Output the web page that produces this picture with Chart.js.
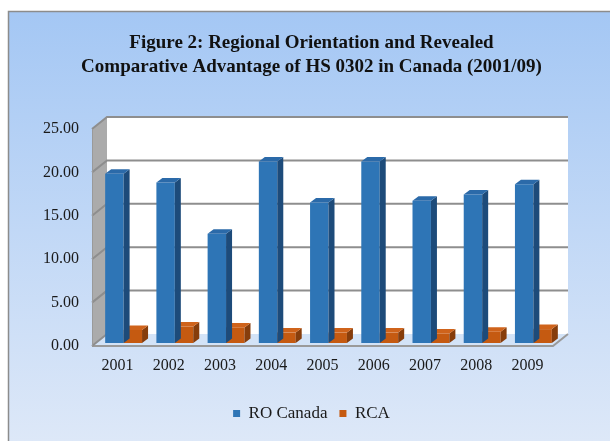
<!DOCTYPE html>
<html>
<head>
<meta charset="utf-8">
<script src="https://cdn.jsdelivr.net/npm/chart.js@4.4.0/dist/chart.umd.min.js"></script>
<style>
  html, body { margin: 0; padding: 0; background: #fff; }
  canvas { display: block; }
</style>
</head>
<body>
<canvas id="chart" width="610" height="441"></canvas>
<script>
// Chart data
const years = ['2001', '2002', '2003', '2004', '2005', '2006', '2007', '2008', '2009'];
const roCanada = [19.5, 18.5, 12.6, 20.9, 16.2, 20.9, 16.4, 17.1, 18.3];
const rca = [1.5, 1.9, 1.8, 1.2, 1.2, 1.2, 1.1, 1.3, 1.6];
const yTicks = [0, 5, 10, 15, 20, 25];
const titleLines = [
    'Figure 2: Regional Orientation and Revealed',
    'Comparative Advantage of HS 0302 in Canada (2001/09)'
];
const seriesNames = ['RO Canada', 'RCA'];

// 3D look: wall depth, bar offset into the box, bar depth
const WALL_DX = 15, WALL_DY = 12;
const BAR_DX = 6, BAR_DY = 3;
const DEPTH_DX = 6, DEPTH_DY = 4.5;
const sideColors = ['#1d4b7a', '#863d0c'];
const topColors = ['#2b6aa9', '#cf631b'];

const serif = "'Liberation Serif', 'Times New Roman', serif";

function quad(c, pts, fill) {
    c.beginPath();
    c.moveTo(pts[0][0], pts[0][1]);
    for (let i = 1; i < pts.length; i++) c.lineTo(pts[i][0], pts[i][1]);
    c.closePath();
    c.fillStyle = fill;
    c.fill();
}

const scene3d = {
    id: 'scene3d',
    beforeDraw(chart) {
        const c = chart.ctx;
        const { left, right, top, bottom } = chart.chartArea;
        c.save();
        c.fillStyle = '#fff';
        c.fillRect(0, 0, chart.width, chart.height);

        // outer frame with blue gradient
        const g = c.createLinearGradient(0, 11, 0, chart.height);
        g.addColorStop(0, '#a4c7f4');
        g.addColorStop(1, '#dde8f8');
        c.fillStyle = g;
        c.fillRect(8, 11, chart.width, chart.height);
        c.strokeStyle = '#8c8c8c';
        c.lineWidth = 1.5;
        c.strokeRect(8.5, 11.5, chart.width + 10, chart.height + 10);

        // back wall
        c.fillStyle = '#ffffff';
        c.fillRect(left + WALL_DX, top - WALL_DY, right - left, bottom - top);

        // left wall
        quad(c, [[left, top], [left + WALL_DX, top - WALL_DY],
                 [left + WALL_DX, bottom - WALL_DY], [left, bottom]], '#ababab');

        // floor
        quad(c, [[left, bottom], [left + WALL_DX, bottom - WALL_DY],
                 [right + WALL_DX, bottom - WALL_DY], [right, bottom]], '#d3e3f7');
        c.strokeStyle = '#9a9a9a';
        c.lineWidth = 2;
        c.beginPath();
        c.moveTo(left, bottom);
        c.lineTo(right, bottom);
        c.lineTo(right + WALL_DX, bottom - WALL_DY);
        c.stroke();

        // gridlines on the left and back walls
        const ys = chart.scales.y;
        c.strokeStyle = '#8e8e8e';
        c.lineWidth = 2;
        ys.ticks.forEach(t => {
            const py = ys.getPixelForValue(t.value);
            c.beginPath();
            c.moveTo(left, py);
            c.lineTo(left + WALL_DX, py - WALL_DY);
            if (t.value > 0) c.lineTo(right + WALL_DX, py - WALL_DY);
            c.stroke();
        });
        c.strokeStyle = '#9a9a9a';
        c.lineWidth = 1;
        c.beginPath();
        c.moveTo(left + 0.5, top);
        c.lineTo(left + 0.5, bottom);
        c.stroke();
        c.restore();
    },
    beforeDatasetsDraw(chart) {
        chart.ctx.save();
        chart.ctx.translate(BAR_DX, -BAR_DY);
    },
    afterDatasetDraw(chart, args) {
        const c = chart.ctx;
        const i = args.index;
        args.meta.data.forEach(bar => {
            const { x, y, base, width } = bar.getProps(['x', 'y', 'base', 'width'], true);
            const l = x - width / 2, r = x + width / 2;
            quad(c, [[r, y], [r + DEPTH_DX, y - DEPTH_DY],
                     [r + DEPTH_DX, base - DEPTH_DY], [r, base]], sideColors[i]);
            quad(c, [[l, y], [l + DEPTH_DX, y - DEPTH_DY],
                     [r + DEPTH_DX, y - DEPTH_DY], [r, y]], topColors[i]);
        });
    },
    afterDatasetsDraw(chart) {
        chart.ctx.restore();
    }
};

const ctx = document.getElementById('chart').getContext('2d');
const chart = new Chart(ctx, {
    type: 'bar',
    data: {
        labels: years,
        datasets: [
            { label: seriesNames[0], data: roCanada, backgroundColor: '#2e75b6', borderWidth: 0 },
            { label: seriesNames[1], data: rca, backgroundColor: '#c55a11', borderWidth: 0 }
        ]
    },
    options: {
        responsive: false,
        animation: false,
        events: [],
        categoryPercentage: 0.72,
        barPercentage: 1,
        clip: false,
        layout: { padding: { left: 40, right: 27, top: 0, bottom: 9 } },
        plugins: {
            title: {
                display: true,
                text: titleLines,
                color: '#111111',
                font: { family: serif, size: 19, weight: 'bold', lineHeight: 1.25 },
                padding: { top: 31, bottom: 50.5 }
            },
            legend: {
                position: 'bottom',
                labels: {
                    color: '#1a1a1a',
                    font: { family: serif, size: 17 },
                    boxWidth: 7,
                    boxHeight: 7,
                    padding: 12
                }
            },
            tooltip: { enabled: false }
        },
        scales: {
            x: {
                grid: { display: false, drawTicks: false },
                border: { display: false },
                ticks: { color: '#1a1a1a', font: { family: serif, size: 16 }, padding: 10 },
                afterFit: s => { s.height = 47; }
            },
            y: {
                min: 0,
                max: 25,
                grid: { display: false, drawTicks: false },
                border: { display: false },
                afterBuildTicks: s => { s.ticks = yTicks.map(v => ({ value: v })); },
                ticks: {
                    color: '#1a1a1a',
                    font: { family: serif, size: 16 },
                    padding: 13,
                    callback: v => v.toFixed(2)
                },
                afterFit: s => { s.width = 52; }
            },
            // empty right margin so the plot ends where the reference does
            yRight: {
                position: 'right',
                grid: { display: false, drawTicks: false },
                border: { display: false },
                ticks: { display: false },
                afterFit: s => { s.width = 30; }
            }
        }
    },
    plugins: [scene3d]
});
</script>
</body>
</html>
